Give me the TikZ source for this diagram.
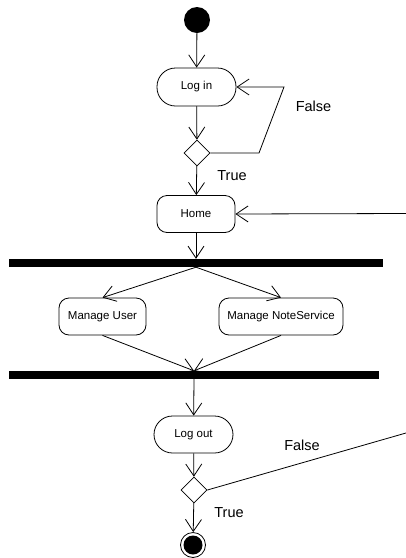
\documentclass[tikz,border=0pt]{standalone}
\usepackage{fontspec}
\setmainfont{Liberation Sans}
\usetikzlibrary{arrows.meta,shapes.geometric}
\tikzset{
  flow/.style={line width=0.8pt, -{Straight Barb[length=12pt,width=16pt,line width=0.8pt]}},
  plain/.style={line width=0.8pt},
  act/.style={draw, line width=0.8pt, rectangle, inner sep=0pt,
    font=\fontsize{11.5}{13}\selectfont},
  pill/.style={act, rounded corners=18.5pt, minimum width=79pt, minimum height=38pt},
  rbox/.style={act, rounded corners=10pt, minimum height=37pt},
  choice/.style={draw, line width=0.8pt, diamond, aspect=1, inner sep=0pt,
    minimum width=26pt, minimum height=26pt},
  bar/.style={fill=black, inner sep=0pt, minimum height=8pt},
  lbl/.style={font=\fontsize{14.5}{16}\selectfont, inner sep=0pt},
}
\begin{document}
\begin{tikzpicture}[x=1pt,y=-1pt]
  \useasboundingbox (0,0) rectangle (406,558);

  % initial and final states
  \node[circle, fill=black, minimum size=26pt, inner sep=0pt] (start) at (197,20) {};
  \node[circle, draw, line width=0.8pt, minimum size=25pt, inner sep=0pt] (stop) at (193,545) {};
  \fill (stop) circle (9.5pt);

  % activities
  \node[pill] (login) at (196.5,87) {Log in};
  \node[choice] (d1) at (197,153) {};
  \node[rbox, minimum width=78pt] (home) at (196,214) {Home};
  \node[bar, minimum width=374pt] (fork) at (196,263) {};
  \node[rbox, minimum width=87pt] (mu) at (102.5,316.5) {Manage User};
  \node[rbox, minimum width=124pt] (mns) at (281,316.5) {Manage NoteService};
  \node[bar, minimum width=370pt] (join) at (194,375) {};
  \node[pill, minimum height=37pt] (logout) at (193.5,434.5) {Log out};
  \node[choice] (d2) at (194,490) {};

  % free ends and bends
  \coordinate (loopa) at (259,153);
  \coordinate (loopb) at (284,87);
  \coordinate (homein) at (406,213.5);
  \coordinate (outfalse) at (406,433);

  % connectors
  \draw[flow] (start) -- (login);
  \draw[flow] (login) -- (d1);
  \draw[flow] (d1.east) -- (loopa) -- (loopb) -- (login.east);
  \draw[flow] (d1) -- (home);
  \draw[flow] (homein) -- (home.east);
  \draw[flow] (home) -- (fork.north);
  \draw[flow] (fork.south) -- (mu.north);
  \draw[flow] (fork.south) -- (mns.north);
  \draw[flow] (mu.south) -- (join.north);
  \draw[flow] (mns.south) -- (join.north);
  \draw[flow] (join.south) -- (logout);
  \draw[flow] (logout) -- (d2);
  \draw[plain] (d2.east) -- (outfalse);
  \draw[flow] (d2) -- (stop);

  % guard labels
  \node[lbl] at (313.5,106) {False};
  \node[lbl] at (232,176) {True};
  \node[lbl] at (302,445) {False};
  \node[lbl] at (229,513) {True};
\end{tikzpicture}
\end{document}
